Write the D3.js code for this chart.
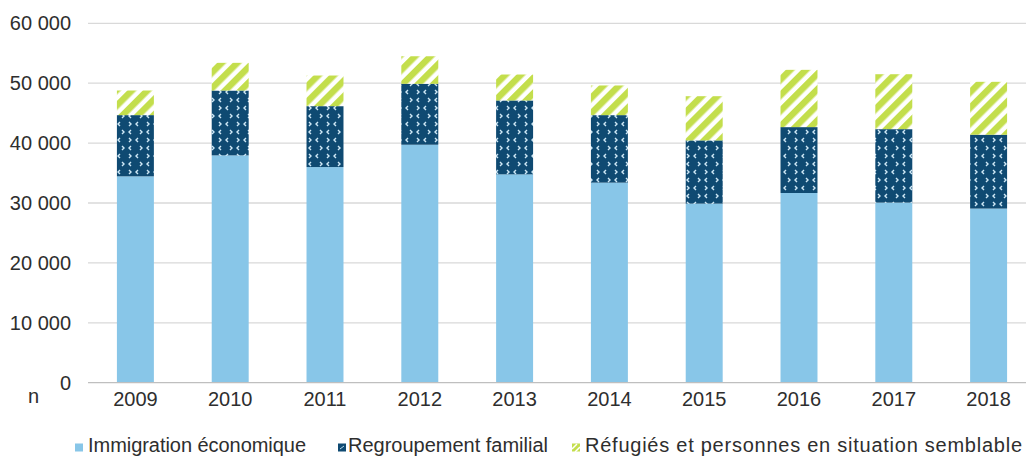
<!DOCTYPE html>
<html>
<head>
<meta charset="utf-8">
<script src="https://cdn.jsdelivr.net/npm/d3@7"></script>
<style>
  html, body { margin: 0; padding: 0; background: #fff; }
  svg { display: block; font-family: "Liberation Sans", Arial, sans-serif; }
</style>
</head>
<body>
<svg id="chart" width="1026" height="458"></svg>
<script>
const years = ["2009","2010","2011","2012","2013","2014","2015","2016","2017","2018"];
const economique = [34450, 37950, 36000, 39730, 34780, 33400, 29900, 31670, 30070, 29070];
const familial   = [10220, 10830, 10170, 10170, 12340, 11270, 10550, 11000, 12260, 12330];
const refugies   = [4110, 4620, 5110, 4600, 4330, 4950, 7380, 9560, 9170, 8830];
const yTicks = [0, 10000, 20000, 30000, 40000, 50000, 60000];
const seriesNames = ["Immigration économique", "Regroupement familial", "Réfugiés et personnes en situation semblable"];
const seriesKeys = ["eco", "fam", "ref"];

const rows = years.map((y, i) => ({ year: y, eco: economique[i], fam: familial[i], ref: refugies[i] }));

const svg = d3.select("#chart");
const defs = svg.append("defs");

// dark pattern with small chevrons
const pDark = defs.append("pattern").attr("id", "pDark").attr("patternUnits", "userSpaceOnUse")
  .attr("width", 18).attr("height", 16);
pDark.append("rect").attr("width", 18).attr("height", 16).attr("fill", "#0f4a72");
const chev = [
  "M5,2 L3,4 L5,6", "M14,2 L16,4 L14,6",
  "M3,10 L5,12 L3,14", "M12,10 L10,12 L12,14"
];
chev.forEach(d => pDark.append("path").attr("d", d).attr("fill", "none")
  .attr("stroke", "#cfe8f6").attr("stroke-width", 1.4));

// green diagonal stripes
const pGreen = defs.append("pattern").attr("id", "pGreen").attr("patternUnits", "userSpaceOnUse")
  .attr("width", 11).attr("height", 11).attr("patternTransform", "rotate(45)");
pGreen.append("rect").attr("width", 11).attr("height", 11).attr("fill", "#ffffff");
pGreen.append("rect").attr("width", 6.5).attr("height", 11).attr("fill", "#c3de4c");

const fills = { eco: "#88c6e8", fam: "url(#pDark)", ref: "url(#pGreen)" };

const x = d3.scaleBand().domain(years).range([88, 1036]).paddingInner(0.61).paddingOuter(0.305);
const y = d3.scaleLinear().domain([0, 60000]).range([382.7, 23.3]);

// gridlines
svg.append("g").selectAll("line").data(yTicks.filter(t => t > 0)).join("line")
  .attr("x1", 88).attr("x2", 1026)
  .attr("y1", d => y(d)).attr("y2", d => y(d))
  .attr("stroke", "#d9d9d9").attr("stroke-width", 1.3);

// y labels
const fmt = d => d3.format(",")(d).replace(/,/g, " ");
svg.append("g").selectAll("text").data(yTicks).join("text")
  .attr("x", 71).attr("y", d => y(d)).attr("dy", "0.35em")
  .attr("text-anchor", "end").attr("font-size", 20).attr("fill", "#2e2e2e")
  .text(fmt);

// stacked bars
const stack = d3.stack().keys(seriesKeys)(rows);
svg.append("g").selectAll("g").data(stack).join("g")
  .attr("fill", d => fills[d.key])
  .selectAll("rect").data(d => d).join("rect")
  .attr("x", d => x(d.data.year))
  .attr("width", x.bandwidth())
  .attr("y", d => y(d[1]))
  .attr("height", d => y(d[0]) - y(d[1]));

// baseline
svg.append("line").attr("x1", 88).attr("x2", 1026).attr("y1", y(0)).attr("y2", y(0))
  .attr("stroke", "#bfbfbf").attr("stroke-width", 1.3);

// x labels
svg.append("g").selectAll("text").data(years).join("text")
  .attr("x", d => x(d) + x.bandwidth() / 2).attr("y", 405.5)
  .attr("text-anchor", "middle").attr("font-size", 20).attr("fill", "#2e2e2e")
  .text(d => d);

svg.append("text").attr("x", 28).attr("y", 403).attr("font-size", 20).attr("fill", "#2e2e2e").text("n");

// legend
const legendX = [75, 338, 572];
const legendW = [218, 200, 437];
const lg = svg.append("g").selectAll("g").data(seriesKeys).join("g")
  .attr("transform", (d, i) => `translate(${legendX[i]},0)`);
lg.append("rect").attr("x", 0).attr("y", 443.5).attr("width", 8).attr("height", 8)
  .attr("fill", d => d === "eco" ? "#88c6e8" : d === "fam" ? "#0f4a72" : "#c3de4c");
lg.filter(d => d === "fam").append("path").attr("d", "M2,449 L6,446")
  .attr("stroke", "#b9dcf0").attr("stroke-width", 1);
lg.filter(d => d === "ref").append("path").attr("d", "M0,449 L5,444 M3,452 L8,447")
  .attr("stroke", "#ffffff").attr("stroke-width", 1.5);
lg.append("text").attr("x", (d, i) => i === 0 ? 13 : i === 1 ? 10 : 13).attr("y", 452)
  .attr("font-size", 20).attr("fill", "#2e2e2e")
  .attr("textLength", (d, i) => legendW[i]).attr("lengthAdjust", "spacing")
  .text((d, i) => seriesNames[i]);
</script>
</body>
</html>
